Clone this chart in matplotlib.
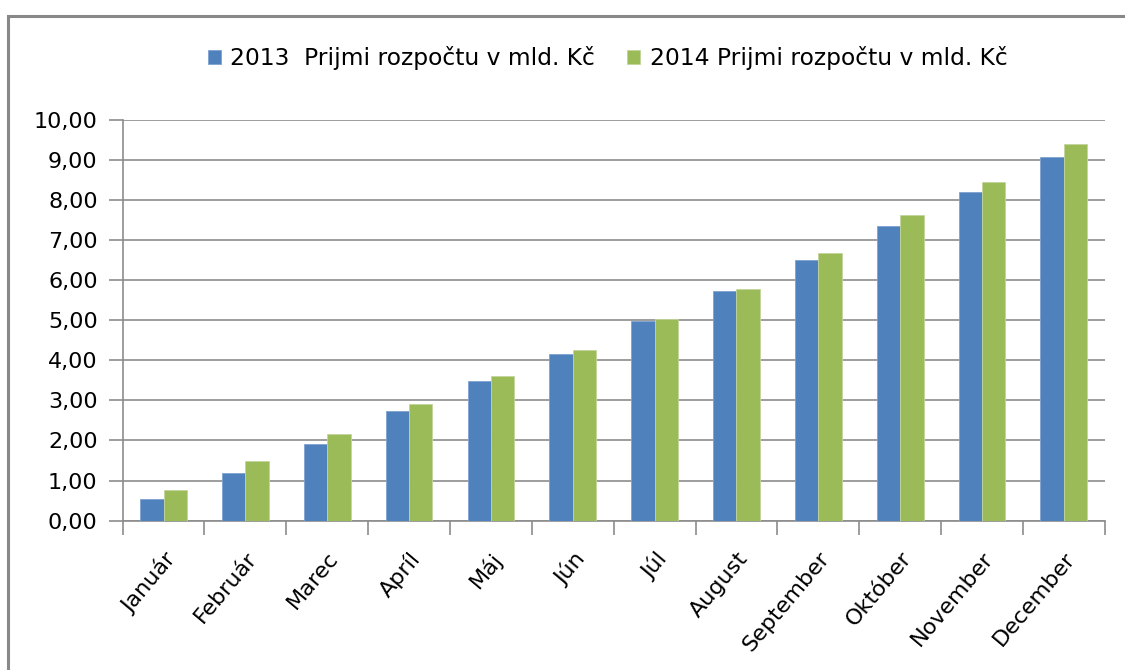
import numpy as np
import matplotlib
matplotlib.use("Agg")
import matplotlib.pyplot as plt
from matplotlib.patches import Rectangle
from matplotlib.ticker import FuncFormatter, MultipleLocator

plt.rcParams['font.family'] = ['DejaVu Sans']

months = ['Január', 'Február', 'Marec', 'Apríl', 'Máj', 'Jún', 'Júl',
          'August', 'September', 'Október', 'November', 'December']
prijmy_2013 = [0.55, 1.19, 1.92, 2.73, 3.49, 4.16, 4.99, 5.74, 6.51, 7.36, 8.21, 9.08]
prijmy_2014 = [0.77, 1.49, 2.16, 2.91, 3.60, 4.27, 5.04, 5.78, 6.68, 7.63, 8.45, 9.40]
labels = ['2013  Prijmi rozpočtu v mld. Kč', '2014 Prijmi rozpočtu v mld. Kč']

blue = '#4F81BD'
green = '#9BBB59'
grid_col = '#8c8c8c'

fig = plt.figure(figsize=(11.25, 6.7), dpi=100)
ax = fig.add_axes([0.109, 0.223, 0.873, 0.598])

x = np.arange(len(months))
w = 1 / 3.5
ax.bar(x - w / 2, prijmy_2013, w, color=blue, edgecolor='#7ea2d0', linewidth=0.6,
       label=labels[0], zorder=3)
ax.bar(x + w / 2, prijmy_2014, w, color=green, edgecolor='#c3d69b', linewidth=0.6,
       label=labels[1], zorder=3)

ax.set_xlim(-0.5, len(months) - 0.5)
ax.set_ylim(0, 10)
ax.yaxis.set_major_locator(MultipleLocator(1))
ax.yaxis.set_major_formatter(FuncFormatter(lambda v, p: f'{v:.2f}'.replace('.', ',')))
ax.grid(axis='y', color=grid_col, linewidth=1.2, zorder=0)

ax.set_xticks(x)
ax.set_xticklabels(months, rotation=50, ha='right', rotation_mode='anchor', fontsize=16)
ax.set_xticks(np.arange(-0.5, len(months)), minor=True)
ax.tick_params(axis='x', which='major', length=0, pad=20)
ax.tick_params(axis='x', which='minor', length=10, width=1.2, color=grid_col)
ax.tick_params(axis='y', length=10, width=1.2, color=grid_col, labelsize=16, pad=8)

for s in ['top', 'right']:
    ax.spines[s].set_visible(False)
for s in ['left', 'bottom']:
    ax.spines[s].set_color(grid_col)
    ax.spines[s].set_linewidth(1.2)

fig.legend(loc='center', bbox_to_anchor=(0.54, 0.913), ncol=2, frameon=False,
           fontsize=16.8, handlelength=0.55, handleheight=0.6, handletextpad=0.4,
           columnspacing=1.4)

fig.patches.append(Rectangle((8 / 1125, -0.1), 1.2, 1.1 - 16 / 670, transform=fig.transFigure,
                             fill=False, edgecolor='#888888', linewidth=2.2))

fig.savefig('out.png', dpi=100)
